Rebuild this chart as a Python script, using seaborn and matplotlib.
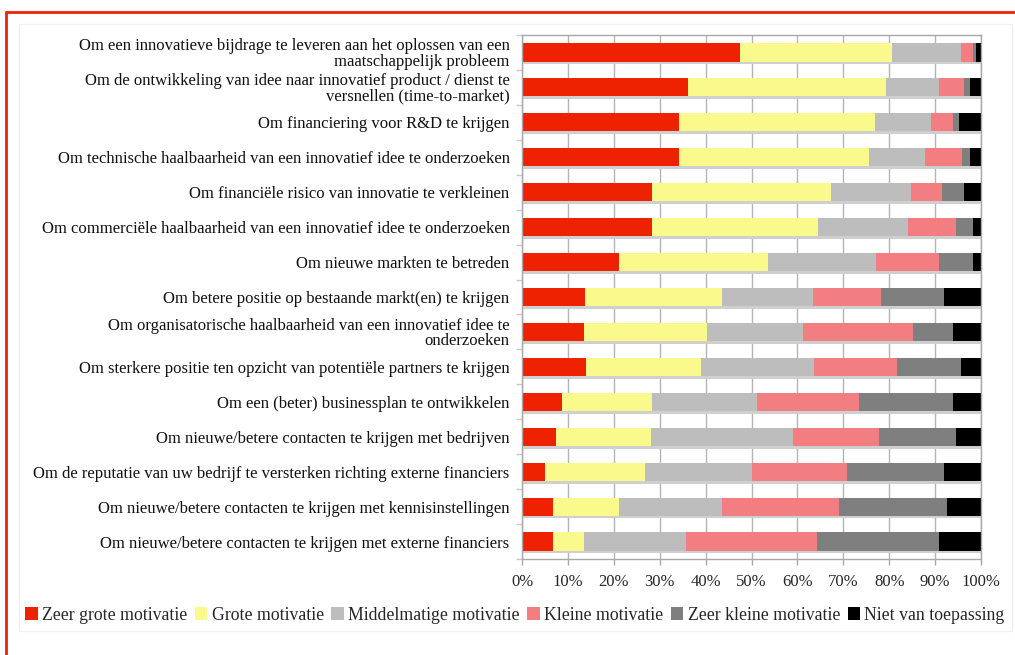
import numpy as np
import pandas as pd
import matplotlib
matplotlib.use("Agg")
import matplotlib.pyplot as plt
import matplotlib.patheffects as pe
from matplotlib.patches import Patch, Rectangle
from matplotlib.lines import Line2D
from matplotlib.ticker import FixedLocator
import seaborn as sns

labels = [
    "Om een innovatieve bijdrage te leveren aan het oplossen van een\nmaatschappelijk probleem",
    "Om de ontwikkeling van idee naar innovatief product / dienst te\nversnellen (time-to-market)",
    "Om financiering voor R&D te krijgen",
    "Om technische haalbaarheid van een innovatief idee te onderzoeken",
    "Om financiële risico van innovatie te verkleinen",
    "Om commerciële haalbaarheid van een innovatief idee te onderzoeken",
    "Om nieuwe markten te betreden",
    "Om betere positie op bestaande markt(en) te krijgen",
    "Om organisatorische haalbaarheid van een innovatief idee te\nonderzoeken",
    "Om sterkere positie ten opzicht van potentiële partners te krijgen",
    "Om een (beter) businessplan te ontwikkelen",
    "Om nieuwe/betere contacten te krijgen met bedrijven",
    "Om de reputatie van uw bedrijf te versterken richting externe financiers",
    "Om nieuwe/betere contacten te krijgen met kennisinstellingen",
    "Om nieuwe/betere contacten te krijgen met externe financiers",
]

series = ["Zeer grote motivatie", "Grote motivatie", "Middelmatige motivatie",
          "Kleine motivatie", "Zeer kleine motivatie", "Niet van toepassing"]

zeer_groot = [47.6, 36.2, 34.2, 34.2, 28.4, 28.3, 21.2, 13.7, 13.5, 13.9, 8.7, 7.4, 5.1, 6.8, 6.8]
groot = [33.0, 43.0, 42.7, 41.4, 38.9, 36.1, 32.3, 29.9, 26.7, 25.1, 19.7, 20.6, 21.8, 14.4, 6.7]
middelmatig = [15.1, 11.7, 12.3, 12.3, 17.4, 19.7, 23.6, 19.8, 21.0, 24.6, 22.9, 31.1, 23.1, 22.4, 22.3]
klein = [2.6, 5.5, 4.8, 7.9, 6.7, 10.5, 13.7, 14.9, 24.0, 18.2, 22.2, 18.6, 20.7, 25.4, 28.5]
zeer_klein = [0.6, 1.3, 1.2, 1.9, 5.0, 3.6, 7.4, 13.7, 8.7, 13.9, 20.4, 16.8, 21.3, 23.7, 26.5]
nvt = [1.1, 2.3, 4.8, 2.3, 3.6, 1.8, 1.8, 8.0, 6.1, 4.3, 6.1, 5.5, 8.0, 7.3, 9.2]

pct_ticks = list(range(0, 101, 10))

colors = ["#ee2200", "#fafa8c", "#bdbdbd", "#f27e82", "#7f7f7f", "#000000"]

sns.set_style("white")
plt.rcParams["font.family"] = ["Liberation Serif", "DejaVu Serif"]

W, H = 1015, 655
fig = plt.figure(figsize=(W / 100, H / 100), dpi=100)
ax = fig.add_axes([522 / W, 1 - 559 / H, (981 - 522) / W, (559 - 35) / H])

values = np.array([zeer_groot, groot, middelmatig, klein, zeer_klein, nvt])
cum = np.cumsum(values, axis=0)
df = pd.DataFrame({"label": labels})
for i, name in enumerate(series):
    df[name] = cum[i]

shadow = [pe.SimplePatchShadow(offset=(0, -2), shadow_rgbFace="#cfcfcf", alpha=1), pe.Normal()]

# stacked bars: draw cumulative totals from longest to shortest
for i in range(len(series) - 1, -1, -1):
    sns.barplot(data=df, x=series[i], y="label", order=labels, orient="h",
                color=colors[i], saturation=1, width=0.52, linewidth=0,
                edgecolor="none", ax=ax)

for bar in ax.patches:
    bar.set_path_effects(shadow)

ax.set_xlim(0, 100)
ax.set_ylim(len(labels) - 0.5, -0.5)
ax.set_xlabel("")
ax.set_ylabel("")
ax.set_xticks(pct_ticks)
ax.set_xticklabels([f"{v}%" for v in pct_ticks])
ax.grid(axis="x", color="#b4b4b4", linewidth=1)
ax.set_axisbelow(True)
for s in ax.spines.values():
    s.set_color("#a8a8a8")
    s.set_linewidth(1)

ax.tick_params(axis="x", direction="out", length=4, width=1, color="#a8a8a8",
               labelsize=12, pad=7, bottom=True)
ax.tick_params(axis="y", which="major", length=0, labelsize=12, pad=9)
ax.yaxis.set_minor_locator(FixedLocator(np.arange(-0.5, len(labels), 1)))
ax.tick_params(axis="y", which="minor", direction="out", length=4, width=1,
               color="#c8c8c8", left=True)
for t in ax.get_yticklabels():
    t.set_linespacing(0.95)
    t.set_multialignment("right")
    t.set_color("#111111")

handles = [Patch(facecolor=c, edgecolor="none") for c in colors]
fig.legend(handles, series, loc="center", bbox_to_anchor=(515 / W, 1 - 615 / H),
           ncol=6, frameon=False, fontsize=12.8, handlelength=0.7, handleheight=0.7,
           handletextpad=0.25, columnspacing=0.42, borderaxespad=0)

# page decoration: red frame lines and faint inner box
fig.add_artist(Line2D([6 / W, 6 / W], [0, 1 - 12 / H], transform=fig.transFigure,
                      color="#ee2200", linewidth=2))
fig.add_artist(Line2D([6 / W, 1], [1 - 12 / H, 1 - 12 / H], transform=fig.transFigure,
                      color="#ee2200", linewidth=2))
fig.add_artist(Rectangle((19 / W, 1 - 631 / H), (1012 - 19) / W, (631 - 24) / H,
                         transform=fig.transFigure, fill=False, edgecolor="#f0f0f0",
                         linewidth=1))

fig.savefig("out.png", dpi=100)
